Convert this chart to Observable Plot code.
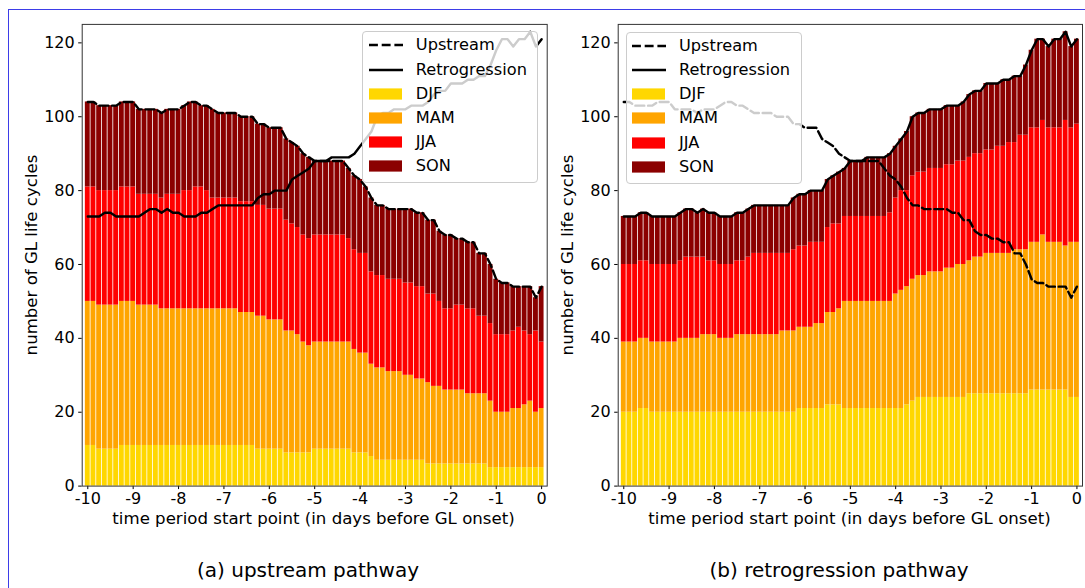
<!DOCTYPE html>
<html><head><meta charset="utf-8">
<script src="https://cdn.jsdelivr.net/npm/d3@7"></script>
<script src="https://cdn.jsdelivr.net/npm/@observablehq/plot@0.6"></script>
<style>
body{margin:0;background:#fff;}
#fig{position:relative;width:1085px;height:588px;overflow:hidden;font-family:"DejaVu Sans",sans-serif;color:#000;background:#fff;}
.panel{position:absolute;top:0;}
.border{position:absolute;left:8px;top:8.5px;width:1100px;height:600px;border-top:1.5px solid #3d3de8;border-left:1.5px solid #3d3de8;}
.ylab{position:absolute;font-size:16.6px;transform:translate(-50%,-50%) rotate(-90deg);white-space:nowrap;line-height:1;}
.xlab{position:absolute;font-size:16.6px;transform:translate(-50%,-50%);white-space:nowrap;line-height:1;}
.cap{position:absolute;font-size:20px;transform:translate(-50%,-50%);white-space:nowrap;line-height:1;}
.legend{position:absolute;background:rgba(255,255,255,0.8);border:1.5px solid #cccccc;border-radius:4px;box-sizing:border-box;width:176px;height:152px;}
.lrow{position:absolute;left:0;height:20px;width:170px;}
.lrow svg{position:absolute;left:5.5px;top:4px;}
.lrow span{position:absolute;left:52.5px;top:0;font-size:16.2px;line-height:20px;white-space:nowrap;}
</style>
</head><body>
<div id="fig"><div class="border"></div></div>
<script>
// time points (days before GL onset), one bar every 3 hours
const days = d3.range(81).map(i => -10 + i / 8);
const seasons = ["DJF", "MAM", "JJA", "SON"];
const seasonColors = ["#FFD700", "#FFA500", "#FF0000", "#8B0000"];
const xTicks = [-10, -9, -8, -7, -6, -5, -4, -3, -2, -1, 0];
const yTicks = [0, 20, 40, 60, 80, 100, 120];

// (a) upstream pathway: counts per season
const upDJF = [
  11,11,10,10,10,10,11,11, 11,11,11,11,11,11,11,11, 11,11,11,11,11,11,11,11,
  11,11,11,11,11,11,10,10, 10,10,10,9,9,9,9,9, 10,10,10,10,10,10,10,9,
  9,9,8,7,7,7,7,7, 7,7,7,7,6,6,6,6, 6,6,6,6,6,6,6,5,
  5,5,5,5,5,5,5,5, 5];
const upMAM = [
  39,39,39,39,39,39,39,39, 39,38,38,38,38,37,37,37, 37,37,37,37,37,37,37,37,
  37,37,37,36,36,36,36,36, 35,35,35,33,33,32,30,29, 29,29,29,29,29,29,29,28,
  27,27,25,25,25,24,24,24, 23,23,22,22,22,21,21,20, 20,20,20,19,19,19,19,18,
  15,15,15,16,16,17,18,15, 16];
const upJJA = [
  31,31,31,31,31,31,31,31, 31,30,30,30,30,30,31,31, 31,32,32,33,33,32,30,30,
  30,30,30,30,30,30,30,30, 30,30,30,30,29,29,29,29, 29,29,29,29,29,29,28,27,
  27,27,25,25,25,25,25,25, 25,25,25,25,24,25,23,22, 22,23,23,23,23,21,21,21,
  21,21,21,21,22,20,18,22, 18];
const upSON = [
  23,23,23,23,23,23,23,23, 23,23,23,23,23,23,23,23, 23,23,24,23,22,23,24,23,
  23,23,23,23,23,23,22,22, 22,22,22,22,22,22,22,22, 20,20,20,20,20,20,19,20,
  20,18,20,19,19,19,19,19, 20,20,20,20,20,20,19,20, 20,18,18,18,18,17,17,16,
  15,14,14,12,11,12,13,9, 15];

// (b) retrogression pathway: counts per season
const reDJF = [
  20,20,20,21,21,20,20,20, 20,20,20,20,20,20,20,20, 20,20,20,20,20,20,20,20,
  20,20,20,20,20,20,20,21, 21,21,21,21,22,22,22,21, 21,21,21,21,21,21,21,21,
  21,21,22,23,24,24,24,24, 24,24,24,24,24,25,25,25, 25,25,25,25,25,25,25,25,
  26,26,26,26,26,26,26,24, 24];
const reMAM = [
  19,19,19,19,19,19,19,19, 19,19,20,20,20,20,21,21, 21,20,20,20,21,21,21,21,
  21,21,21,21,22,22,22,22, 22,22,23,23,25,25,26,29, 29,29,29,29,29,29,29,29,
  31,32,32,33,33,33,34,34, 34,35,35,36,36,36,37,37, 38,38,38,38,38,39,39,39,
  40,40,42,40,40,40,39,42, 42];
const reJJA = [
  21,21,21,21,21,21,21,21, 21,21,21,22,22,22,21,20, 20,20,20,20,20,20,21,22,
  22,22,22,22,21,21,22,22, 22,23,22,22,23,24,23,23, 23,23,23,23,23,23,23,24,
  26,27,26,28,28,28,28,28, 28,28,28,28,28,28,28,28, 28,28,29,29,30,29,31,31,
  31,31,31,31,31,31,34,31, 32];
const reSON = [
  13,13,13,13,13,13,13,13, 13,13,13,13,13,12,13,13, 13,13,13,13,13,13,13,13,
  13,13,13,13,13,13,14,14, 14,14,14,14,13,13,14,13, 15,15,15,16,16,16,16,16,
  14,14,16,16,16,16,16,16, 16,16,16,15,16,17,17,17, 18,18,17,18,17,18,16,19,
  21,24,22,22,24,24,24,22, 23];

const upSeries = [upDJF, upMAM, upJJA, upSON];
const reSeries = [reDJF, reMAM, reJJA, reSON];
const halfStep = 1 / 16;

function barRows(series) {
  const out = [];
  seasons.forEach((s, k) => series[k].forEach((v, i) =>
    out.push({x1: days[i] - halfStep, x2: days[i] + halfStep, season: s, v})));
  return out;
}
const total = series => days.map((d, i) => series.reduce((a, s) => a + s[i], 0));
const upTotal = total(upSeries);
const reTotal = total(reSeries);
const lineData = days.map((d, i) => ({x: d, up: upTotal[i], re: reTotal[i]}));

function panel(series, width, marginLeft, marginRight) {
  return Plot.plot({
    width, height: 530,
    marginLeft, marginRight, marginTop: 23.9, marginBottom: 44.4,
    style: {fontFamily: "DejaVu Sans, sans-serif", fontSize: "16px", background: "transparent", color: "#000", overflow: "visible"},
    x: {domain: [-10.123, 0.123], ticks: xTicks, tickFormat: d => String(d), tickSize: 3.5, tickPadding: 3, label: null},
    y: {domain: [0, 125], ticks: yTicks, tickSize: 3.5, tickPadding: 4, label: null},
    color: {domain: seasons, range: seasonColors},
    marks: [
      Plot.rectY(barRows(series), {x1: "x1", x2: "x2", y: "v", fill: "season", z: "season", order: seasons, insetLeft: 0.4, insetRight: 0.4}),
      Plot.line(lineData, {x: "x", y: "re", stroke: "#000", strokeWidth: 2.4, strokeLinejoin: "round"}),
      Plot.line(lineData, {x: "x", y: "up", stroke: "#000", strokeWidth: 2.4, strokeDasharray: "8.9,3.8", strokeLinejoin: "round"}),
      Plot.frame({stroke: "#333", strokeWidth: 1})
    ]
  });
}

const fig = document.getElementById("fig");
function place(el, left) { el.classList.add("panel"); el.style.left = left + "px"; fig.appendChild(el); }
place(panel(upSeries, 560, 81.7, 13.3), 0);
place(panel(reSeries, 545, 77.7, 3), 540);

function addText(cls, text, x, y) {
  const d = document.createElement("div");
  d.className = cls; d.textContent = text;
  d.style.left = x + "px"; d.style.top = y + "px";
  fig.appendChild(d);
}
const xLabel = "time period start point (in days before GL onset)";
const yLabel = "number of GL life cycles";
addText("xlab", xLabel, 313.5, 519);
addText("xlab", xLabel, 849.5, 519);
addText("ylab", yLabel, 31.5, 255);
addText("ylab", yLabel, 567.5, 255);
addText("cap", "(a) upstream pathway", 308, 570);
addText("cap", "(b) retrogression pathway", 839, 570);

// legends
const legendItems = [
  {label: "Upstream", kind: "dash"},
  {label: "Retrogression", kind: "solid"},
  ...seasons.map((s, k) => ({label: s, kind: "patch", color: seasonColors[k]}))
];
function addLegend(left, top) {
  const box = document.createElement("div");
  box.className = "legend";
  box.style.left = left + "px"; box.style.top = top + "px";
  legendItems.forEach((it, k) => {
    const row = document.createElement("div");
    row.className = "lrow";
    row.style.top = (3.2 + k * 24.2) + "px";
    const svg = d3.create("svg").attr("width", 34).attr("height", 12);
    if (it.kind === "patch") {
      svg.append("rect").attr("x", 0).attr("y", 0.4).attr("width", 33).attr("height", 11.2).attr("fill", it.color);
    } else {
      svg.append("line").attr("x1", 0).attr("x2", 34).attr("y1", 6).attr("y2", 6)
        .attr("stroke", "#000").attr("stroke-width", 2.4)
        .attr("stroke-dasharray", it.kind === "dash" ? "8.9,3.8" : null);
    }
    row.appendChild(svg.node());
    const sp = document.createElement("span");
    sp.textContent = it.label;
    row.appendChild(sp);
    box.appendChild(row);
  });
  fig.appendChild(box);
}
addLegend(362.3, 31.3);
addLegend(625.5, 31.5);
</script>
</body></html>
